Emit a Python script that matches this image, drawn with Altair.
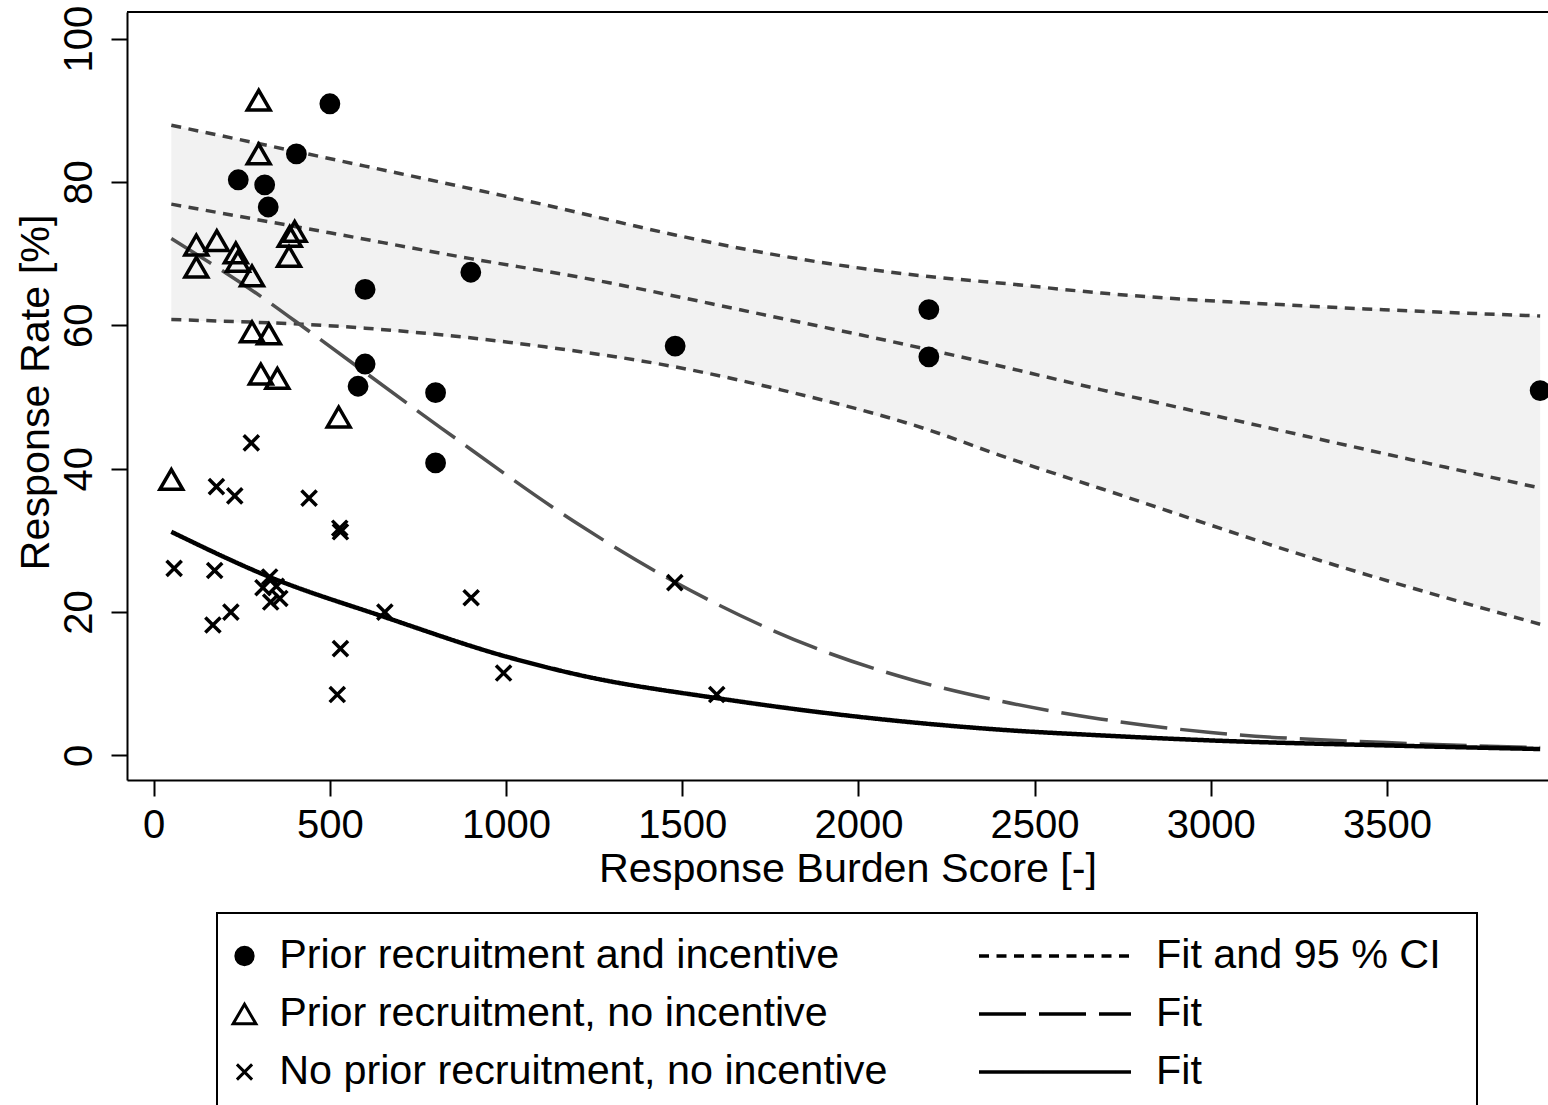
import altair as alt
import pandas as pd

# ---------------- data ----------------
groups = ["Prior recruitment and incentive",
          "Prior recruitment, no incentive",
          "No prior recruitment, no incentive"]

circle_x = [500, 405, 240, 315, 325, 900, 600, 600, 580, 800, 800, 1480, 2200, 2200, 3935]
circle_y = [90.9, 83.9, 80.3, 79.6, 76.5, 67.4, 65.0, 54.6, 51.5, 50.6, 40.8, 57.1, 62.2, 55.6, 50.9]

tri_x = [298, 298, 121, 179, 233, 239, 121, 279, 400, 386, 384, 279, 327, 304, 351, 525, 50]
tri_y = [91.4, 83.9, 71.2, 71.8, 70.1, 68.9, 68.1, 66.9, 73.1, 72.4, 69.6, 59.1, 58.8, 53.2, 52.6, 47.2, 38.5]

cross_x = [277, 178, 230, 441, 528, 530, 58, 173, 329, 310, 348, 332, 358, 219, 168, 656, 901,
           530, 521, 993, 1479, 1598]
cross_y = [43.6, 37.5, 36.2, 35.9, 31.7, 31.2, 26.1, 25.8, 24.9, 23.4, 23.6, 21.4, 21.9, 20.0,
           18.2, 20.0, 22.0, 14.9, 8.5, 11.5, 24.1, 8.5]

# fit with 95 % CI (prior recruitment and incentive)
band_x = [50, 600, 1110, 1480, 1780, 2200, 2400, 2690, 3310, 3935]
band_upper = [87.9, 82.2, 76.8, 72.6, 69.7, 66.8, 65.9, 64.5, 62.6, 61.3]
band_lower = [60.8, 59.6, 57.0, 54.2, 51.0, 45.4, 41.9, 37.2, 27.2, 18.3]
mid_x = [50, 500, 900, 1210, 1700, 2200, 2690, 3310, 3935]
mid_y = [76.9, 72.9, 69.3, 66.7, 61.8, 56.6, 51.0, 44.1, 37.3]

# fit (prior recruitment, no incentive) - long dashes
dash_x = [50, 305, 443, 818, 1210, 1479, 1872, 2156, 2402, 2686, 3000, 3500, 3935]
dash_y = [72.1, 64.0, 59.1, 45.6, 32.1, 24.2, 15.1, 10.5, 7.6, 5.1, 3.2, 1.8, 1.1]

# fit (no prior recruitment, no incentive) - solid
solid_x = [50, 329, 656, 1000, 1210, 1598, 2000, 2402, 2690, 3000, 3500, 3935]
solid_y = [31.2, 24.9, 19.3, 13.8, 11.2, 8.0, 5.4, 3.6, 2.8, 2.1, 1.4, 0.9]

x_ticks = [0, 500, 1000, 1500, 2000, 2500, 3000, 3500]
y_ticks = [0, 20, 40, 60, 80, 100]
style_keys = ["ci", "dash", "solid"]

# ---------------- tables ----------------
pts = pd.concat([
    pd.DataFrame({"x": circle_x, "y": circle_y, "group": groups[0]}),
    pd.DataFrame({"x": tri_x, "y": tri_y, "group": groups[1]}),
    pd.DataFrame({"x": cross_x, "y": cross_y, "group": groups[2]}),
], ignore_index=True)

band = pd.DataFrame({"x": band_x, "lower": band_lower, "upper": band_upper})
ci_lines = pd.concat([
    pd.DataFrame({"x": band_x, "y": band_upper, "line": "upper", "style": "ci"}),
    pd.DataFrame({"x": mid_x, "y": mid_y, "line": "mid", "style": "ci"}),
    pd.DataFrame({"x": band_x, "y": band_lower, "line": "lower", "style": "ci"}),
], ignore_index=True)
dash_line = pd.DataFrame({"x": dash_x, "y": dash_y, "line": "dash", "style": "dash"})
solid_line = pd.DataFrame({"x": solid_x, "y": solid_y, "line": "solid", "style": "solid"})
one = pd.DataFrame({"k": [0]})

FONT = "Liberation Sans"
X_DOMAIN = [-75.8, 3957.3]
Y_DOMAIN = [-3.42, 103.7]

xscale = alt.Scale(domain=X_DOMAIN, nice=False, zero=False)
yscale = alt.Scale(domain=Y_DOMAIN, nice=False, zero=False)

xaxis = alt.Axis(
    title="Response Burden Score [-]", values=x_ticks, format="d", grid=False,
    domainColor="black", domainWidth=2, tickColor="black", tickWidth=2, tickSize=16,
    labelFont=FONT, labelFontSize=40, labelColor="black", labelPadding=9,
    labelFlush=False, labelOverlap=False,
    titleFont=FONT, titleFontSize=41.3, titleFontWeight="normal", titleColor="black",
    titleX=720.5, titleY=101, titleBaseline="alphabetic", titleAlign="center",
)
yaxis = alt.Axis(
    title="Response Rate [%]", values=y_ticks, format="d", grid=False,
    domainColor="black", domainWidth=2, tickColor="black", tickWidth=2, tickSize=16,
    labelFont=FONT, labelFontSize=40, labelColor="black", labelPadding=20,
    labelAngle=270, labelAlign="center", labelBaseline="alphabetic",
    labelFlush=False, labelOverlap=False,
    titleFont=FONT, titleFontSize=41.3, titleFontWeight="normal", titleColor="black",
    titleAngle=270, titleX=-79, titleY=380, titleBaseline="alphabetic", titleAlign="center",
)

def X():
    return alt.X("x:Q", scale=xscale, axis=xaxis)

def Y(field="y"):
    return alt.Y(f"{field}:Q", scale=yscale, axis=yaxis)

dash_scale = alt.Scale(domain=style_keys, range=[[10, 7.5], [47, 13], [1, 0]])
dash_legend = alt.Legend(
    title=None, orient="none", legendX=850, legendY=915.25, direction="vertical",
    symbolType="stroke", symbolSize=23104, symbolStrokeWidth=3.5, symbolStrokeColor="black",
    labelExpr="datum.value == 'ci' ? 'Fit and 95 % CI' : 'Fit'",
    labelFont=FONT, labelFontSize=41.3, labelColor="black", labelOffset=23, labelLimit=1000,
    clipHeight=57.5, rowPadding=0, padding=0, symbolOffset=0,
)

pt_legend = alt.Legend(
    title=None, orient="none", legendX=96.85, legendY=915.25, direction="vertical",
    labelFont=FONT, labelFontSize=41.3, labelColor="black", labelOffset=14, labelLimit=1000,
    clipHeight=57.5, rowPadding=0, padding=0, symbolOffset=0,
    symbolStrokeColor="black", symbolStrokeWidth=3, symbolOpacity=1,
)

band_layer = alt.Chart(band).mark_area(color="#f2f2f2", opacity=1).encode(
    x=X(), y=Y("lower"), y2="upper:Q"
)

ci_layer = alt.Chart(ci_lines).mark_line(color="#404040", strokeWidth=3.5, interpolate="monotone").encode(
    x=X(), y=Y(), detail="line:N",
    strokeDash=alt.StrokeDash("style:N", scale=dash_scale, legend=dash_legend),
)
dash_layer = alt.Chart(dash_line).mark_line(color="#505050", strokeWidth=3.5, interpolate="monotone").encode(
    x=X(), y=Y(), detail="line:N",
    strokeDash=alt.StrokeDash("style:N", scale=dash_scale, legend=dash_legend),
)
solid_layer = alt.Chart(solid_line).mark_line(color="black", strokeWidth=4.5, interpolate="monotone").encode(
    x=X(), y=Y(), detail="line:N",
    strokeDash=alt.StrokeDash("style:N", scale=dash_scale, legend=dash_legend),
)

point_layer = alt.Chart(pts).mark_point(strokeWidth=3.5, opacity=1).encode(
    x=X(), y=Y(),
    shape=alt.Shape("group:N", scale=alt.Scale(
        domain=groups, range=["circle", "triangle-up", "M-1,-1L1,1M-1,1L1,-1"]),
        legend=pt_legend),
    fill=alt.Fill("group:N", scale=alt.Scale(
        domain=groups, range=["black", "transparent", "transparent"]), legend=pt_legend),
    stroke=alt.Stroke("group:N", scale=alt.Scale(
        domain=groups, range=["black", "black", "black"]), legend=pt_legend),
    size=alt.Size("group:N", scale=alt.Scale(type="ordinal", domain=groups, range=[300, 520, 230]),
                  legend=pt_legend),
)

# plot frame top edge and legend frame (decoration)
top_edge = alt.Chart(one).mark_rule(color="black", strokeWidth=2).encode(
    x=alt.value(0), x2=alt.value(1421), y=alt.value(0)
)
legend_box = alt.Chart(one).mark_rect(fill="white", fillOpacity=0, stroke="black", strokeWidth=2).encode(
    x=alt.value(90), x2=alt.value(1350), y=alt.value(901), y2=alt.value(1130)
)

chart = alt.layer(
    band_layer, ci_layer, dash_layer, solid_layer, point_layer, top_edge, legend_box
).properties(
    width=1421, height=768,
    autosize=alt.AutoSizeParams(type="none"),
    padding={"left": 127, "top": 12, "right": 0, "bottom": 325},
    background="white",
).configure_view(stroke=None)

chart.save("out.html", embed_options={"renderer": "svg", "actions": False})
